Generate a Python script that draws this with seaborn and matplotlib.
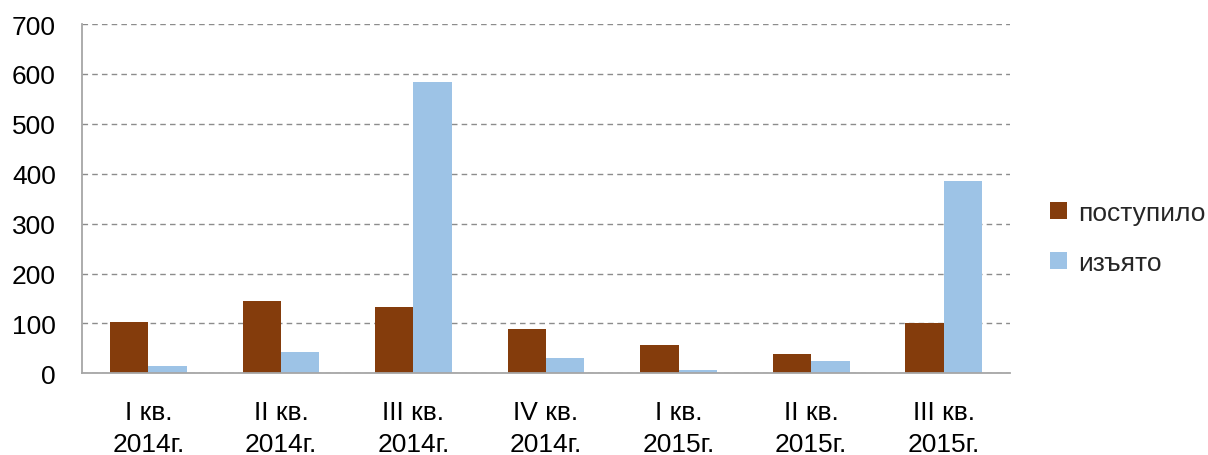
import matplotlib
matplotlib.use("Agg")
import matplotlib.pyplot as plt
import seaborn as sns
import pandas as pd

categories = ["I кв.\n2014г.", "II кв.\n2014г.", "III кв.\n2014г.", "IV кв.\n2014г.",
              "I кв.\n2015г.", "II кв.\n2015г.", "III кв.\n2015г."]
series_names = ["поступило", "изъято"]
received = [103, 145, 133, 89, 57, 38, 100]
withdrawn = [15, 43, 584, 30, 6, 25, 386]
yticks = [0, 100, 200, 300, 400, 500, 600, 700]

df = pd.DataFrame({
    "cat": categories * 2,
    "series": [series_names[0]] * len(categories) + [series_names[1]] * len(categories),
    "value": received + withdrawn,
})

sns.set_theme(style="white")
plt.rcParams['font.family'] = ['Liberation Sans', 'DejaVu Sans']

fig = plt.figure(figsize=(12.08, 4.56), dpi=100)
ax = fig.add_axes([0.068, 0.179, 0.768, 0.766])

palette = {"поступило": "#843C0C", "изъято": "#9DC3E6"}
sns.barplot(data=df, x="cat", y="value", hue="series", palette=palette,
            width=0.58, ax=ax, saturation=1, edgecolor="none", legend=True)

ax.set_ylim(0, 700)
ax.set_yticks(yticks)
ax.set_yticklabels([str(t) for t in yticks])
ax.set_xlim(-0.5, len(categories) - 0.5)
ax.yaxis.grid(True, linestyle=(0, (4, 3)), color="#8c8c8c", linewidth=1)
ax.set_axisbelow(True)
ax.set_xlabel("")
ax.set_ylabel("")
for s in ["top", "right"]:
    ax.spines[s].set_visible(False)
for s in ["left", "bottom"]:
    ax.spines[s].set_color("#a6a6a6")
    ax.spines[s].set_linewidth(1.3)
ax.tick_params(axis="both", length=0, labelsize=19, colors="black")
ax.tick_params(axis="y", pad=19)
ax.tick_params(axis="x", pad=19)
for lbl in ax.get_xticklabels():
    lbl.set_linespacing(1.45)

handles, labels = ax.get_legend_handles_labels()
if ax.legend_:
    ax.legend_.remove()
fig.legend(handles, labels, loc="center left", bbox_to_anchor=(0.863, 0.476),
           frameon=False, fontsize=19, handlelength=0.62, handleheight=0.62,
           handletextpad=0.42, labelspacing=1.0, borderpad=0.3, borderaxespad=0)

fig.savefig("out.png", dpi=100)
